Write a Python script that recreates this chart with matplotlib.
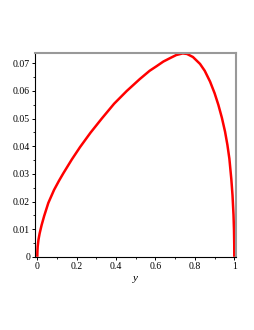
import matplotlib
matplotlib.use('Agg')
import matplotlib.pyplot as plt
from matplotlib.ticker import MultipleLocator

# points (y, value)
y_vals = [0.0, 0.0005, 0.002, 0.006, 0.012, 0.022, 0.035, 0.056, 0.085, 0.11,
          0.132, 0.175, 0.217, 0.27, 0.327, 0.39, 0.454, 0.52, 0.57, 0.606,
          0.64, 0.674, 0.705, 0.738, 0.76, 0.79, 0.826, 0.85, 0.877, 0.90,
          0.919, 0.937, 0.953, 0.965, 0.975, 0.985, 0.991, 0.996, 0.9985,
          0.9997, 1.0]
f_vals = [0.0, 0.0018, 0.0037, 0.0062, 0.0085, 0.0115, 0.0148, 0.0195, 0.0242, 0.0275,
          0.0302, 0.0352, 0.0397, 0.0449, 0.0500, 0.0554, 0.0600, 0.0643, 0.0673, 0.0690,
          0.07066, 0.0719, 0.0730, 0.0736, 0.0734, 0.0723, 0.0698, 0.0673, 0.0634, 0.0592,
          0.0550, 0.0503, 0.0453, 0.0405, 0.0355, 0.0280, 0.0222, 0.0152, 0.0096,
          0.0045, 0.0]

x_ticks = [0, 0.2, 0.4, 0.6, 0.8, 1]
x_ticklabels = ['0', '0.2', '0.4', '0.6', '0.8', '1']
y_ticks = [0, 0.01, 0.02, 0.03, 0.04, 0.05, 0.06, 0.07]
y_ticklabels = ['0', '0.01', '0.02', '0.03', '0.04', '0.05', '0.06', '0.07']

plt.rcParams['font.family'] = ['Liberation Serif', 'DejaVu Serif']

fig = plt.figure(figsize=(2.55, 3.3), dpi=100)
ax = fig.add_axes([0.137, 0.221, 0.788, 0.618])

ax.plot(y_vals, f_vals, color='#ff0000', lw=1.8, solid_joinstyle='round',
        solid_capstyle='butt')

ax.set_xlim(-0.012, 1.008)
ax.set_ylim(-0.0001, 0.0737)

ax.set_xticks(x_ticks)
ax.set_xticklabels(x_ticklabels)
ax.set_yticks(y_ticks)
ax.set_yticklabels(y_ticklabels)
ax.xaxis.set_minor_locator(MultipleLocator(0.1))
ax.yaxis.set_minor_locator(MultipleLocator(0.005))
ax.tick_params(which='major', direction='out', length=2.5, width=0.7,
               labelsize=7, pad=1, colors='black')
ax.tick_params(which='minor', direction='out', length=1.3, width=0.6)

# maple style frame: black axes, grey box on the other sides
for side in ('left', 'bottom'):
    ax.spines[side].set_color('black')
    ax.spines[side].set_linewidth(0.8)
for side in ('top', 'right'):
    ax.spines[side].set_color('#999999')
    ax.spines[side].set_linewidth(1.5)

ax.set_xlabel('y', fontstyle='italic', fontsize=8, labelpad=2)

fig.savefig('out.png', dpi=100)
